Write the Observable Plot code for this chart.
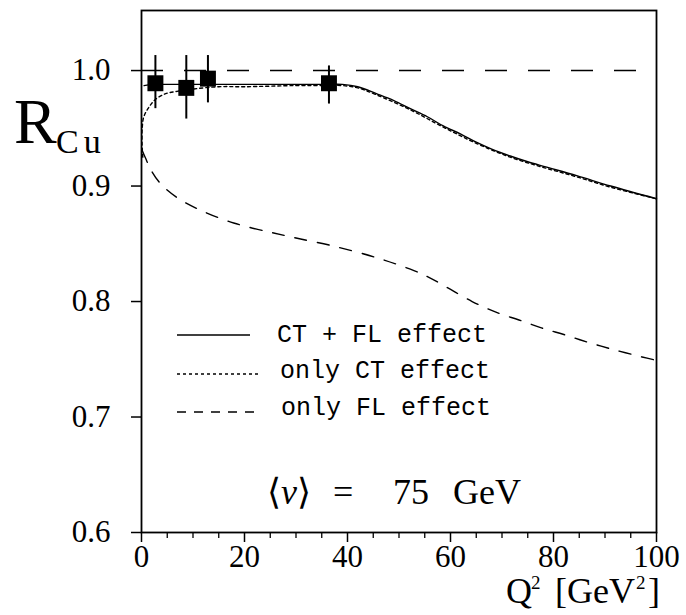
<!DOCTYPE html>
<html><head><meta charset="utf-8">
<script src="https://cdn.jsdelivr.net/npm/d3@7"></script>
<script src="https://cdn.jsdelivr.net/npm/@observablehq/plot@0.6"></script>
<style>
body{margin:0;background:#fff;}
#wrap{position:relative;width:686px;height:615px;font-family:"Liberation Serif",serif;}
#wrap svg{position:absolute;left:0;top:0;}
</style></head><body><div id="wrap"></div>
<script>
// Axis ticks
const q2Ticks = [0, 20, 40, 60, 80, 100];
const q2Minor = [5, 10, 15, 25, 30, 35, 45, 50, 55, 65, 70, 75, 85, 90, 95];
const rTicks = [0.6, 0.7, 0.8, 0.9, 1.0];
const refLevel = [1.0];

// Data points with error bars
const ptQ2 = [2.7, 8.7, 12.9, 36.4];
const ptR = [0.989, 0.985, 0.993, 0.989];
const ptTop = [1.013, 1.013, 1.013, 1.004];
const ptBottom = [0.967, 0.958, 0.972, 0.971];

// CT + FL effect (solid)
const ctflQ2 = [0.5, 2, 5, 10, 20, 30, 36, 39, 42, 45.6, 49, 52.2, 55.5, 58.6, 62, 65, 68, 71.6, 75, 78.1, 84.5, 91.1, 100];
const ctflR = [0.987, 0.988, 0.988, 0.988, 0.988, 0.988, 0.988, 0.988, 0.986, 0.980, 0.974, 0.967, 0.960, 0.952, 0.945, 0.938, 0.932, 0.926, 0.921, 0.917, 0.909, 0.900, 0.889];

// only CT effect (dotted)
const ctQ2 = [0.25, 0.1, 0.15, 0.45, 1.4, 2.7, 4.7, 6.9, 10, 15, 20, 30, 36, 39, 42, 45.6, 52.2, 58.6, 65, 71.6, 78.1, 84.5, 91.1, 100];
const ctR = [0.925, 0.938, 0.951, 0.960, 0.968, 0.975, 0.980, 0.982, 0.984, 0.986, 0.986, 0.987, 0.987, 0.987, 0.985, 0.979, 0.966, 0.951, 0.937, 0.925, 0.916, 0.908, 0.899, 0.889];

// only FL effect (dashed)
const flQ2 = [0.2, 0.8, 1.7, 3.7, 6.9, 11.5, 17.9, 25, 30, 37.3, 45.6, 52.2, 55.8, 59.4, 64.2, 68.7, 73.3, 77.8, 82.3, 87.2, 92, 97.2, 100];
const flR = [0.930, 0.924, 0.915, 0.902, 0.890, 0.879, 0.868, 0.860, 0.855, 0.848, 0.838, 0.828, 0.821, 0.812, 0.800, 0.791, 0.784, 0.777, 0.771, 0.764, 0.758, 0.752, 0.749];

const legendLabels = ["CT + FL effect", "only CT effect", "only FL effect"];

const pts = ptQ2.map((q, i) => ({q, r: ptR[i], top: ptTop[i], bottom: ptBottom[i]}));
const mk = (xs, ys) => xs.map((q, i) => ({q, r: ys[i]}));

const plot = Plot.plot({
  width: 686, height: 615,
  marginLeft: 141, marginRight: 30, marginTop: 10, marginBottom: 83,
  style: {fontFamily: "Liberation Serif", fontSize: "31px", background: "white", color: "black"},
  x: {domain: [0, 100]},
  y: {domain: [0.6, 1.052]},
  marks: [
    Plot.frame({strokeWidth: 1.8}),
    Plot.axisY(rTicks, {tickSize: 10, tickPadding: 21, tickFormat: d3.format(".1f"), fontSize: 31, label: null, strokeWidth: 1.5}),
    Plot.axisX(q2Ticks, {tickSize: 10, tickPadding: 2, tickFormat: d3.format("d"), fontSize: 31, label: null, strokeWidth: 1.5}),
    Plot.axisX(q2Minor, {tickSize: 6, tickFormat: () => "", label: null, strokeWidth: 1.3}),
    Plot.ruleY(refLevel, {strokeDasharray: "22,21", strokeWidth: 1.5}),
    Plot.line(mk(flQ2, flR), {x: "q", y: "r", curve: "catmull-rom", strokeWidth: 1.4, strokeDasharray: "12,11"}),
    Plot.line(mk(ctQ2, ctR), {x: "q", y: "r", curve: "catmull-rom", strokeWidth: 1.4, strokeDasharray: "3,3"}),
    Plot.line(mk(ctflQ2, ctflR), {x: "q", y: "r", curve: "catmull-rom", strokeWidth: 1.4}),
    Plot.ruleX(pts, {x: "q", y1: "bottom", y2: "top", strokeWidth: 2}),
    Plot.dot(pts, {x: "q", y: "r", symbol: "square", r: 9, fill: "black", stroke: "none"})
  ]
});
const wrap = document.getElementById("wrap");
wrap.appendChild(plot);

// Overlay: axis titles, legend, annotation
const ov = d3.select(wrap).append("svg")
  .attr("width", 686).attr("height", 615)
  .style("pointer-events", "none")
  .attr("font-family", "Liberation Serif");

ov.append("text").attr("x", 14).attr("y", 143).attr("font-size", 64).text("R");
ov.append("text").attr("x", 56).attr("y", 153).attr("font-size", 34)
  .attr("letter-spacing", 5).text("Cu");

const legendY = [335, 374, 412];
const legendBase = [342, 378, 415];
const legendX = [277, 280, 281];
const legendEnd = [250, 258, 262];
const legendDash = [null, "3,3", "9,8"];
legendLabels.forEach((lab, i) => {
  const l = ov.append("line").attr("x1", 177).attr("x2", legendEnd[i])
    .attr("y1", legendY[i]).attr("y2", legendY[i])
    .attr("stroke", "black").attr("stroke-width", 1.4);
  if (legendDash[i]) l.attr("stroke-dasharray", legendDash[i]);
  ov.append("text").attr("x", legendX[i]).attr("y", legendBase[i])
    .attr("font-family", "Liberation Mono").attr("font-size", 25)
    .attr("xml:space", "preserve").style("white-space", "pre").text(lab);
});

const nu = ov.append("text").attr("y", 504).attr("font-size", 36);
nu.append("tspan").attr("x", 267).text("⟨");
nu.append("tspan").attr("font-style", "italic").text("ν");
nu.append("tspan").text("⟩");
nu.append("tspan").attr("x", 333).text("=");
nu.append("tspan").attr("x", 393).text("75");
nu.append("tspan").attr("x", 453).text("GeV");

const ql = ov.append("text").attr("y", 603).attr("font-size", 36);
ql.append("tspan").attr("x", 506).text("Q");
ql.append("tspan").attr("x", 531).attr("y", 589).attr("font-size", 19).text("2");
ql.append("tspan").attr("x", 555).attr("y", 603).text("[GeV");
ql.append("tspan").attr("x", 636).attr("y", 589).attr("font-size", 19).text("2");
ql.append("tspan").attr("x", 648).attr("y", 603).text("]");
</script>
</body></html>
